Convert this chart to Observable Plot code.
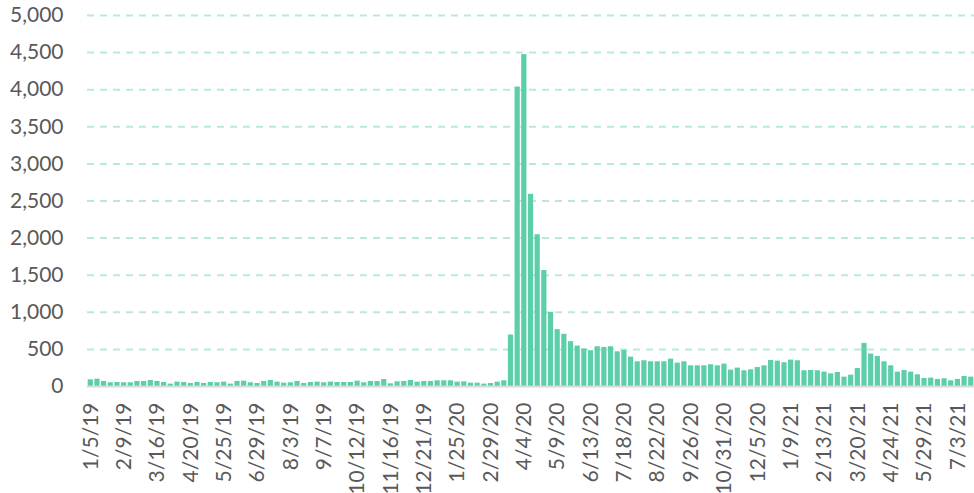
<!DOCTYPE html>
<html>
<head>
<meta charset="utf-8">
<script src="https://cdn.jsdelivr.net/npm/d3@7"></script>
<script src="https://cdn.jsdelivr.net/npm/@observablehq/plot@0.6"></script>
<style>
  html, body { margin: 0; padding: 0; background: #ffffff; }
  #chart { width: 974px; height: 493px; overflow: hidden; }
</style>
</head>
<body>
<div id="chart"></div>
<script>
// Weekly values (Saturdays, 1/5/19 .. 7/17/21)
const values = [
  90, 99, 68, 50, 54, 50, 50, 68, 68, 81,
  68, 54, 32, 59, 54, 41, 54, 41, 54, 50,
  59, 32, 68, 72, 50, 41, 68, 81, 59, 45,
  50, 68, 41, 54, 59, 50, 59, 54, 54, 54,
  72, 50, 68, 68, 95, 36, 63, 68, 81, 59,
  68, 68, 77, 77, 77, 59, 63, 45, 45, 32,
  40, 59, 77, 694, 4036, 4473, 2590, 2045, 1563, 1000,
  766, 703, 604, 545, 505, 482, 536, 527, 536, 468,
  486, 396, 333, 347, 333, 333, 333, 369, 315, 333,
  279, 279, 279, 293, 279, 302, 221, 248, 212, 225,
  257, 279, 351, 342, 320, 356, 347, 212, 216, 212,
  194, 171, 189, 126, 153, 243, 581, 437, 405, 333,
  279, 194, 216, 194, 158, 108, 113, 95, 104, 77,
  95, 135, 126
];

const startDate = "2019-01-05";
const tickLabels = [
  "1/5/19", "2/9/19", "3/16/19", "4/20/19", "5/25/19", "6/29/19", "8/3/19",
  "9/7/19", "10/12/19", "11/16/19", "12/21/19", "1/25/20", "2/29/20", "4/4/20",
  "5/9/20", "6/13/20", "7/18/20", "8/22/20", "9/26/20", "10/31/20", "12/5/20",
  "1/9/21", "2/13/21", "3/20/21", "4/24/21", "5/29/21", "7/3/21"
];
const yTicks = [0, 500, 1000, 1500, 2000, 2500, 3000, 3500, 4000, 4500, 5000];

// Category labels: weekly dates formatted as M/D/YY
const fmt = d3.utcFormat("%-m/%-d/%y");
const start = new Date(startDate + "T00:00:00Z");
const weeks = values.map((_, i) => fmt(d3.utcWeek.offset(start, i)));
const data = values.map((v, i) => ({week: weeks[i], value: v}));

const chart = Plot.plot({
  width: 974,
  height: 493,
  marginLeft: 87,
  marginRight: 0,
  marginTop: 15,
  marginBottom: 107,
  style: {fontFamily: "Lato, 'Open Sans', sans-serif", fontSize: "21px", color: "#595959", background: "#ffffff"},
  x: {type: "band", domain: weeks, paddingInner: 0.22, paddingOuter: 0.1, axis: null},
  y: {domain: [0, 5000], axis: null},
  marks: [
    Plot.gridY(yTicks.filter(d => d > 0), {stroke: "#b6ebda", strokeOpacity: 1, strokeWidth: 2, strokeDasharray: "7,6"}),
    Plot.barY(data, {x: "week", y: "value", fill: "#5ccfaa"}),
    Plot.ruleY([0], {stroke: "#d9d9d9", strokeWidth: 2}),
    Plot.axisY(yTicks, {tickSize: 0, tickPadding: 24, tickFormat: d3.format(","), fill: "#595959", label: null}),
    Plot.axisX(tickLabels, {tickSize: 0, tickPadding: 16, tickRotate: -90, fill: "#595959", label: null})
  ]
});
document.getElementById("chart").appendChild(chart);
</script>
</body>
</html>
